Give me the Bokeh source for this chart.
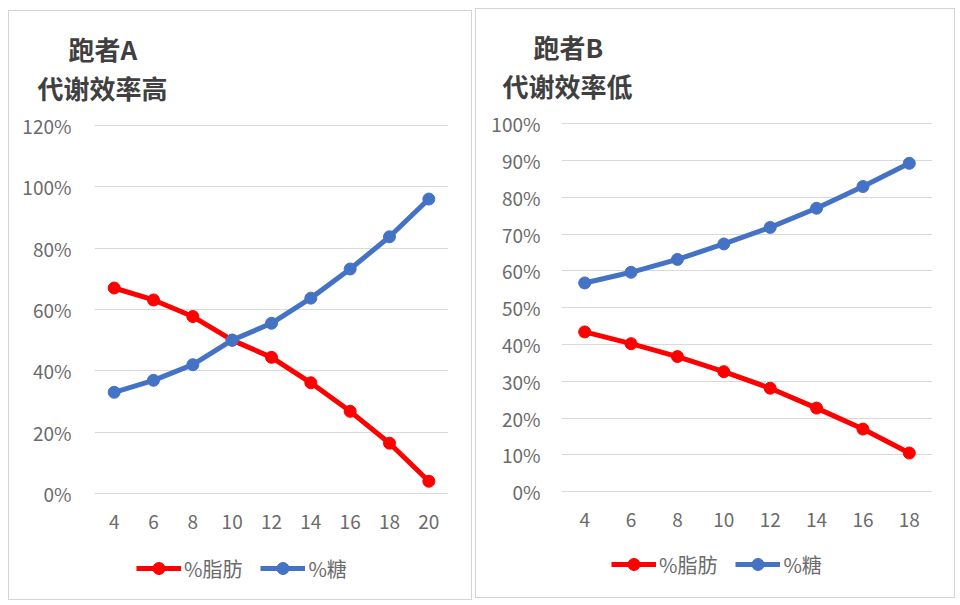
from bokeh.plotting import figure
from bokeh.layouts import row
from bokeh.models import (Range1d, FactorRange, FixedTicker, NumeralTickFormatter,
                          Legend, LegendItem, Title)
from bokeh.embed import file_html
from bokeh.resources import INLINE

# ---- data ----
speeds_a = ["4", "6", "8", "10", "12", "14", "16", "18", "20"]
fat_a = [0.670, 0.631, 0.577, 0.500, 0.444, 0.361, 0.268, 0.164, 0.040]
sugar_a = [0.330, 0.369, 0.420, 0.500, 0.555, 0.637, 0.732, 0.837, 0.960]
ticks_a = [0.0, 0.2, 0.4, 0.6, 0.8, 1.0, 1.2]
title_a = ["跑者A", "代谢效率高"]

speeds_b = ["4", "6", "8", "10", "12", "14", "16", "18"]
fat_b = [0.434, 0.402, 0.367, 0.326, 0.281, 0.227, 0.170, 0.105]
sugar_b = [0.567, 0.596, 0.631, 0.673, 0.718, 0.770, 0.829, 0.892]
ticks_b = [0.0, 0.1, 0.2, 0.3, 0.4, 0.5, 0.6, 0.7, 0.8, 0.9, 1.0]
title_b = ["跑者B", "代谢效率低"]

series_names = ["%脂肪", "%糖"]
series_colors = ["#FF0000", "#4472C4"]

FONT = "Noto Sans CJK SC"
TICK_COLOR = "#6b6b6b"


def make_panel(cats, fat, sugar, ticks, titles, w, h, mb, yr, title_offsets,
               leg_loc, margin, y_standoff):
    p = figure(width=w, height=h, x_range=FactorRange(*cats),
               y_range=Range1d(yr[0], yr[1]),
               output_backend="svg", toolbar_location=None,
               min_border_left=mb[0], min_border_right=mb[1],
               min_border_top=mb[2], min_border_bottom=mb[3])
    p.margin = margin
    p.styles = {"border": "1px solid #d4d4d4"}
    p.outline_line_color = None
    p.background_fill_color = "white"
    p.border_fill_color = "white"
    p.xgrid.grid_line_color = None
    p.ygrid.grid_line_color = "#d9d9d9"
    p.ygrid.grid_line_width = 1

    p.yaxis.ticker = FixedTicker(ticks=ticks)
    p.ygrid.ticker = FixedTicker(ticks=ticks)
    p.yaxis.formatter = NumeralTickFormatter(format="0%")
    p.xaxis.fixed_location = ticks[0]
    for ax in (p.xaxis, p.yaxis):
        ax.axis_line_color = None
        ax.major_tick_line_color = None
        ax.minor_tick_line_color = None
        ax.major_tick_out = 0
        ax.major_tick_in = 0
        ax.major_label_text_font = FONT
        ax.major_label_text_font_size = "19px"
        ax.major_label_text_color = TICK_COLOR
    p.xaxis.major_label_standoff = 21
    p.yaxis.major_label_standoff = y_standoff

    renderers = []
    for vals, color in zip([fat, sugar], series_colors):
        l = p.line(cats, vals, line_color=color, line_width=5)
        s = p.scatter(cats, vals, size=12, fill_color=color, line_color=color)
        renderers.append([l, s])

    items = [LegendItem(label=n, renderers=r) for n, r in zip(series_names, renderers)]
    leg = Legend(items=items, orientation="horizontal", location=leg_loc,
                 glyph_width=45, glyph_height=30, label_standoff=3, spacing=18,
                 padding=0, margin=0, border_line_color=None,
                 background_fill_alpha=0, label_text_font=FONT,
                 label_text_font_size="20px", label_text_color=TICK_COLOR)
    p.add_layout(leg, "center")

    # second line first: it sits nearest to the plot area
    for t, off in reversed(list(zip(titles, title_offsets))):
        p.add_layout(Title(text=t, align="left", offset=off,
                           text_font=FONT, text_font_size="26px",
                           text_font_style="bold", text_color="#404040",
                           standoff=0), "above")
    return p


pa = make_panel(speeds_a, fat_a, sugar_a, ticks_a, title_a, 464, 590,
                (85, 25, 94, 0), (-0.352, 1.265), [-26, -57],
                (42, 18), (10, 0, 0, 8), 23)
pb = make_panel(speeds_b, fat_b, sugar_b, ticks_b, title_b, 480, 590,
                (85, 24, 92, 0), (-0.293, 1.0546), [-28, -59],
                (50, 20), (8, 0, 0, 3), 21)

layout = row(pa, pb)
open("out.html", "w").write(file_html(layout, INLINE))
